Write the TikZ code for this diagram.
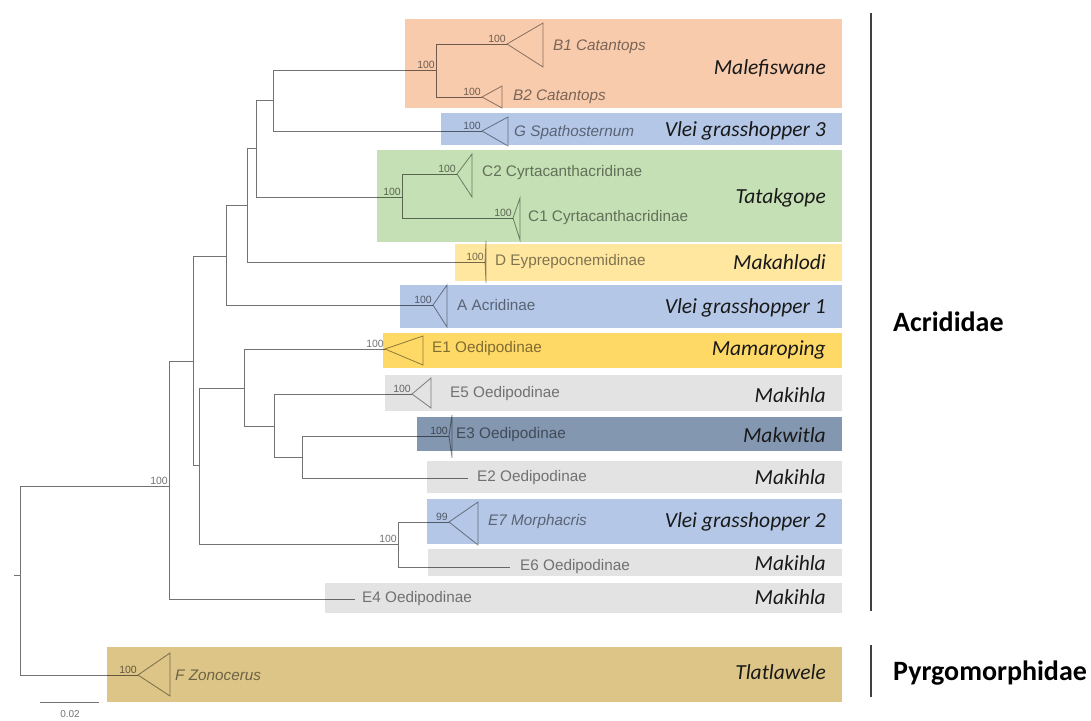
\documentclass[tikz,border=0pt]{standalone}
\usepackage{fontspec}
\setmainfont{Liberation Sans}
\newfontfamily\bandfont{Carlito}
\usetikzlibrary{positioning}

\definecolor{peach}{HTML}{F8CBAD}
\definecolor{vleiblue}{HTML}{B4C7E7}
\definecolor{leaf}{HTML}{C5E0B4}
\definecolor{paleyellow}{HTML}{FFE7A0}
\definecolor{gold}{HTML}{FFD966}
\definecolor{lightgrey}{HTML}{E3E3E3}
\definecolor{slate}{HTML}{8497B0}
\definecolor{tan}{HTML}{DCC586}

\begin{document}
\begin{tikzpicture}[x=1pt, y=-1pt,
  branch/.style={draw=black, draw opacity=0.55, line width=1pt},
  clade/.style={draw=black, draw opacity=0.45, line width=0.8pt},
  boot/.style={above left, inner sep=1pt, text=black, text opacity=0.55,
    font=\fontsize{10.5}{12}\selectfont},
  tip/.style={right, inner sep=0pt, text=black, text opacity=0.5,
    font=\fontsize{15.3}{18}\selectfont},
  local/.style={left, inner sep=0pt, text=black!90,
    font=\bandfont\itshape\fontsize{21.5}{24}\selectfont},
  family/.style={right, inner sep=0pt, font=\bandfont\bfseries\fontsize{28}{32}\selectfont}]
  \useasboundingbox (0,0) rectangle (1091,720);

  % coloured bands
  \fill[peach] (405,19) rectangle (842,108);
  \fill[vleiblue] (441,113) rectangle (842,145);
  \fill[leaf] (377,150) rectangle (842,242);
  \fill[paleyellow] (455,244) rectangle (842,281);
  \fill[vleiblue] (400,285) rectangle (842,328);
  \fill[gold] (383,333) rectangle (842,368);
  \fill[lightgrey] (385,375) rectangle (842,411);
  \fill[slate] (417,417) rectangle (842,451);
  \fill[lightgrey] (427,461) rectangle (842,493);
  \fill[vleiblue] (427,499) rectangle (842,544);
  \fill[lightgrey] (428,549) rectangle (842,576);
  \fill[lightgrey] (325,583) rectangle (842,613);
  \fill[tan] (107,647) rectangle (842,702);

  % inner nodes
  \coordinate (stub) at (14,575);
  \coordinate (root) at (20,575);
  \coordinate (nAcr) at (169,486);
  \coordinate (n193) at (193,361);
  \coordinate (n226) at (226,256);
  \coordinate (n247) at (247,205);
  \coordinate (n256) at (256,148);
  \coordinate (n273) at (273,100);
  \coordinate (nB) at (436,70);
  \coordinate (nC) at (402,197);
  \coordinate (n199) at (199,465);
  \coordinate (n244) at (244,388);
  \coordinate (n274) at (274,426);
  \coordinate (n302) at (302,457);
  \coordinate (n398) at (398,544);

  % tips
  \coordinate (B1) at (507,44);
  \coordinate (B2) at (482,97);
  \coordinate (G) at (482,131);
  \coordinate (C2) at (457,174);
  \coordinate (C1) at (513,218);
  \coordinate (D) at (485,262);
  \coordinate (A) at (433,305);
  \coordinate (E1) at (385,349);
  \coordinate (E5) at (412,394);
  \coordinate (E3) at (449,436);
  \coordinate (E2) at (468,478);
  \coordinate (E7) at (449,522);
  \coordinate (E6) at (510,567);
  \coordinate (E4) at (355,599);
  \coordinate (F) at (138,675);

  % branches
  \draw[branch] (stub) -- (root);
  \draw[branch] (root) |- (nAcr);
  \draw[branch] (root) |- (F);
  \draw[branch] (nAcr) |- (n193);
  \draw[branch] (nAcr) |- (E4);
  \draw[branch] (n193) |- (n226);
  \draw[branch] (n193) |- (n199);
  \draw[branch] (n226) |- (n247);
  \draw[branch] (n226) |- (A);
  \draw[branch] (n247) |- (n256);
  \draw[branch] (n247) |- (D);
  \draw[branch] (n256) |- (n273);
  \draw[branch] (n256) |- (nC);
  \draw[branch] (n273) |- (nB);
  \draw[branch] (n273) |- (G);
  \draw[branch] (nB) |- (B1);
  \draw[branch] (nB) |- (B2);
  \draw[branch] (nC) |- (C2);
  \draw[branch] (nC) |- (C1);
  \draw[branch] (n199) |- (n244);
  \draw[branch] (n199) |- (n398);
  \draw[branch] (n244) |- (E1);
  \draw[branch] (n244) |- (n274);
  \draw[branch] (n274) |- (E5);
  \draw[branch] (n274) |- (n302);
  \draw[branch] (n302) |- (E3);
  \draw[branch] (n302) |- (E2);
  \draw[branch] (n398) |- (E7);
  \draw[branch] (n398) |- (E6);

  % collapsed clades
  \draw[clade] (B1) -- (543,23) -- (543,67) -- cycle;
  \draw[clade] (B2) -- (502,86) -- (502,108) -- cycle;
  \draw[clade] (G) -- (508,117) -- (508,146) -- cycle;
  \draw[clade] (C2) -- (472,154) -- (472,197) -- cycle;
  \draw[clade] (C1) -- (520,198) -- (520,240) -- cycle;
  \draw[clade] (D) -- (486,241) -- (486,283) -- cycle;
  \draw[clade] (A) -- (447,285) -- (447,327) -- cycle;
  \draw[clade] (E1) -- (423,336) -- (423,365) -- cycle;
  \draw[clade] (E5) -- (431,378) -- (431,408) -- cycle;
  \draw[clade] (E3) -- (452,415) -- (452,458) -- cycle;
  \draw[clade] (E7) -- (478,502) -- (478,545) -- cycle;
  \draw[clade] (F) -- (170,653) -- (170,696) -- cycle;

  % support values
  \node[boot] (sB1) at (B1) {100};
  \node[boot] (sB2) at (B2) {100};
  \node[boot] (sB) at (nB) {100};
  \node[boot] (sG) at (G) {100};
  \node[boot] (sC2) at (C2) {100};
  \node[boot] (sC1) at (C1) {100};
  \node[boot] (sC) at (nC) {100};
  \node[boot] (sD) at (D) {100};
  \node[boot] (sA) at (A) {100};
  \node[boot] (sE1) at (E1) {100};
  \node[boot] (sE5) at (E5) {100};
  \node[boot] (sE3) at (E3) {100};
  \node[boot] (sE7) at (E7) {99};
  \node[boot] (sE76) at (n398) {100};
  \node[boot] (sAcr) at (nAcr) {100};
  \node[boot] (sF) at (F) {100};

  % tip labels
  \node[tip] (lB1) at (553,47) {\itshape B1 Catantops};
  \node[tip] (lB2) at (513,97) {\itshape B2 Catantops};
  \node[tip] (lG) at (514,133) {\itshape G Spathosternum};
  \node[tip] (lC2) at (482,173) {C2 Cyrtacanthacridinae};
  \node[tip] (lC1) at (528,218) {C1 Cyrtacanthacridinae};
  \node[tip] (lD) at (495,262) {D Eyprepocnemidinae};
  \node[tip] (lA) at (457,305) {A Acridinae};
  \node[tip] (lE1) at (432,349) {E1 Oedipodinae};
  \node[tip] (lE5) at (450,394) {E5 Oedipodinae};
  \node[tip] (lE3) at (456,435) {E3 Oedipodinae};
  \node[tip] (lE2) at (477,478) {E2 Oedipodinae};
  \node[tip] (lE7) at (488,522) {\itshape E7 Morphacris};
  \node[tip] (lE6) at (520,567) {E6 Oedipodinae};
  \node[tip] (lE4) at (362,599) {E4 Oedipodinae};
  \node[tip] (lF) at (175,675) {\itshape F Zonocerus};

  % local names
  \node[local] (mal) at (826,68) {Malefiswane};
  \node[local] (vg3) at (826,131) {Vlei grasshopper 3};
  \node[local] (tat) at (826,198) {Tatakgope};
  \node[local] (mak) at (826,262) {Makahlodi};
  \node[local] (vg1) at (826,308) {Vlei grasshopper 1};
  \node[local] (mam) at (826,350) {Mamaroping};
  \node[local] (mk1) at (826,395) {Makihla};
  \node[local] (mkw) at (826,435) {Makwitla};
  \node[local] (mk2) at (826,477) {Makihla};
  \node[local] (vg2) at (826,522) {Vlei grasshopper 2};
  \node[local] (mk3) at (826,563) {Makihla};
  \node[local] (mk4) at (826,597) {Makihla};
  \node[local] (tla) at (826,672) {Tlatlawele};

  % families
  \draw[line width=1.3pt, black!75] (871,13) -- (871,611);
  \draw[line width=1.3pt, black!75] (871,645) -- (871,697);
  \node[family] (acr) at (893,322) {Acrididae};
  \node[family] (pyr) at (893,673) {Pyrgomorphidae};

  % scale bar
  \coordinate (sbl) at (40,702);
  \coordinate (sbr) at (99,702);
  \draw[branch] (sbl) -- (sbr);
  \node[text=black, text opacity=0.55, font=\fontsize{10}{12}\selectfont] (sbt) at (70,714) {0.02};
\end{tikzpicture}
\end{document}
